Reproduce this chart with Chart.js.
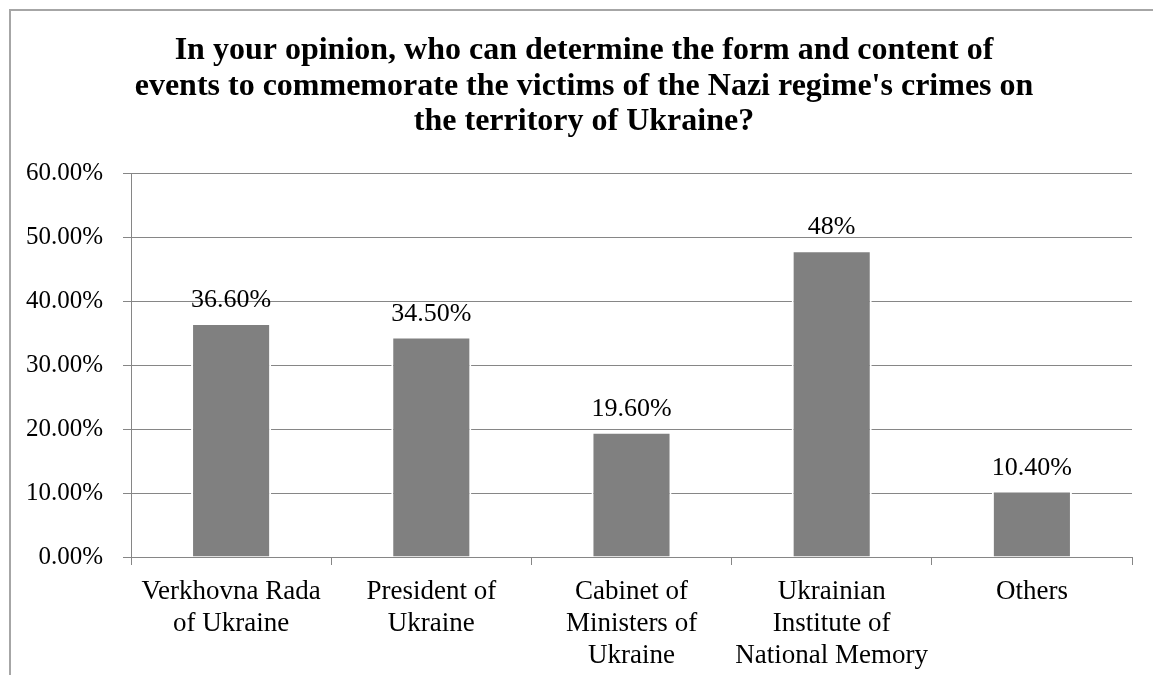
<!DOCTYPE html>
<html>
<head>
<meta charset="utf-8">
<script src="https://cdn.jsdelivr.net/npm/chart.js@4"></script>
<style>
  html, body { margin: 0; padding: 0; background: #fff; overflow: hidden; }
  #frame { position: absolute; left: 9px; top: 9px; width: 1300px; height: 800px;
           border-left: 2px solid #a6a6a6; border-top: 2px solid #a6a6a6; }
  #chart { position: absolute; left: 0; top: 0; }
</style>
</head>
<body>
<div id="frame"></div>
<canvas id="chart" width="1153" height="675"></canvas>
<script>
const titleLines = [
  'In your opinion, who can determine the form and content of',
  "events to commemorate the victims of the Nazi regime's crimes on",
  'the territory of Ukraine?'
];
const categories = [
  ['Verkhovna Rada', 'of Ukraine'],
  ['President of', 'Ukraine'],
  ['Cabinet of', 'Ministers of', 'Ukraine'],
  ['Ukrainian', 'Institute of', 'National Memory'],
  ['Others']
];
const shares = [36.6, 34.5, 19.6, 48, 10.4];
const shareLabels = ['36.60%', '34.50%', '19.60%', '48%', '10.40%'];
const yTicks = [0, 10, 20, 30, 40, 50, 60];

const FONT = '"Liberation Serif", "Times New Roman", serif';
const GRID = '#868686';

// value labels above each bar
const barLabels = {
  id: 'barLabels',
  afterDatasetsDraw(chart) {
    const ctx = chart.ctx;
    const meta = chart.getDatasetMeta(0);
    ctx.save();
    ctx.font = '26px ' + FONT;
    ctx.fillStyle = '#000';
    ctx.textAlign = 'center';
    ctx.textBaseline = 'alphabetic';
    meta.data.forEach((bar, i) => {
      ctx.fillText(shareLabels[i], bar.x, bar.y - 16);
    });
    ctx.restore();
  }
};

// the title is centred a bit right of the plot, shift its box
const titleShift = {
  id: 'titleShift',
  afterLayout(chart) {
    chart.titleBlock.left = 36;
  }
};

const ctx = document.getElementById('chart').getContext('2d');
const chart = new Chart(ctx, {
  type: 'bar',
  data: {
    labels: categories,
    datasets: [{
      data: shares,
      backgroundColor: '#808080',
      borderColor: '#ffffff',
      borderWidth: 2,
      barPercentage: 0.4,
      categoryPercentage: 1
    }]
  },
  options: {
    responsive: false,
    animation: false,
    events: [],
    layout: { padding: { left: 0, right: 21, top: 0, bottom: 0 } },
    plugins: {
      legend: { display: false },
      tooltip: { enabled: false },
      title: {
        display: true,
        text: titleLines,
        color: '#000',
        font: { family: FONT, size: 32, weight: 'bold', lineHeight: 1.11 },
        padding: { top: 33, bottom: 34 }
      }
    },
    scales: {
      x: {
        offset: true,
        grid: { display: true, drawOnChartArea: false, color: GRID, tickLength: 8 },
        border: { display: true, color: GRID },
        ticks: { color: '#000', font: { family: FONT, size: 27, lineHeight: 1.185 }, padding: 11, maxRotation: 0, autoSkip: false },
        afterFit(s) { s.height = 118; }
      },
      y: {
        min: 0,
        max: 60,
        afterBuildTicks(s) { s.ticks = yTicks.map(v => ({ value: v })); },
        grid: { color: GRID, tickLength: 8 },
        border: { display: true, color: GRID },
        ticks: {
          color: '#000',
          font: { family: FONT, size: 25 },
          padding: 20,
          callback: v => v.toFixed(2) + '%'
        },
        afterFit(s) { s.width = 131; }
      }
    }
  },
  plugins: [barLabels, titleShift]
});
</script>
</body>
</html>
